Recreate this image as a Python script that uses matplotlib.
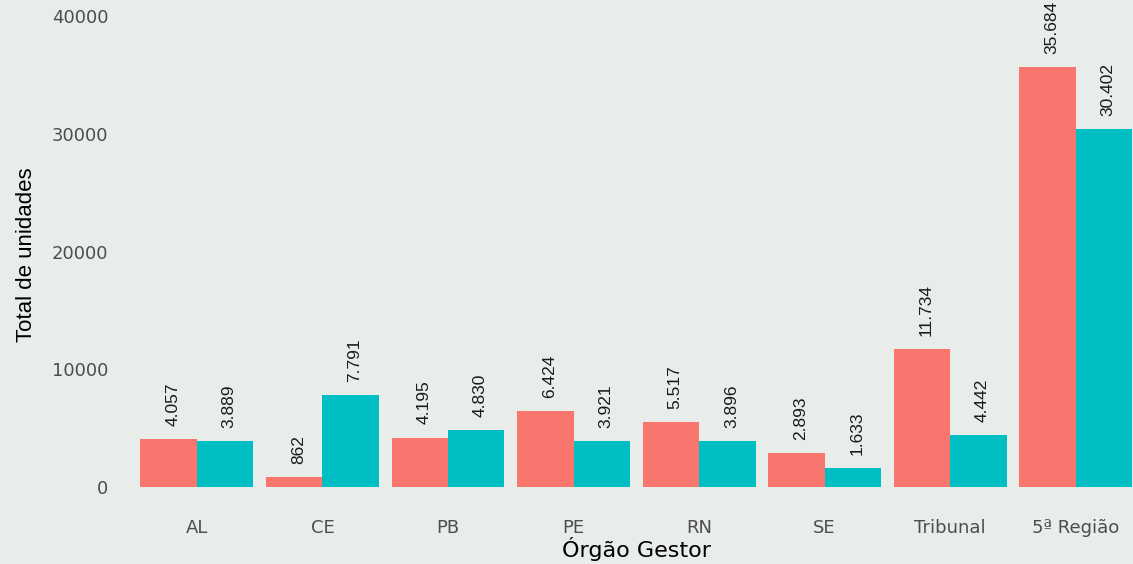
import matplotlib
matplotlib.use("Agg")
import matplotlib.pyplot as plt
import numpy as np

# Units per management body, two series side by side
categorias = ["AL", "CE", "PB", "PE", "RN", "SE", "Tribunal", "5ª Região"]
serie_1 = [4057, 862, 4195, 6424, 5517, 2893, 11734, 35684]
serie_2 = [3889, 7791, 4830, 3921, 3896, 1633, 4442, 30402]
y_ticks = [0, 10000, 20000, 30000, 40000]

cor_1 = "#F8766D"
cor_2 = "#00BFC4"
fundo = "#e9ede9"

plt.rcParams["font.family"] = ["Liberation Sans", "DejaVu Sans"]
largo = ["DejaVu Sans"]

W, H = 1133, 564
fig = plt.figure(figsize=(W / 100, H / 100), dpi=100)
fig.patch.set_facecolor(fundo)

left_px, right_px = 121.6, 1151.0
top_px, bottom_px = 0.0, 509.0
ax = fig.add_axes([left_px / W, (H - bottom_px) / H,
                   (right_px - left_px) / W, (bottom_px - top_px) / H])
ax.set_facecolor("none")

x = np.arange(1, len(categorias) + 1)
w = 0.45
ax.bar(x - w / 2, serie_1, width=w, color=cor_1, linewidth=0)
ax.bar(x + w / 2, serie_2, width=w, color=cor_2, linewidth=0)


def fmt(v):
    return f"{v:,}".replace(",", ".")


for xs, vals in ((x - w / 2, serie_1), (x + w / 2, serie_2)):
    for xi, v in zip(xs, vals):
        ax.annotate(fmt(v), (xi, v), xytext=(3, 9.5), textcoords="offset points",
                    rotation=90, ha="center", va="bottom", fontsize=12.5,
                    color="#1a1a1a")

ax.set_xlim(0.4, 8.6)
ax.set_ylim(-1868, 41360)
ax.set_xticks(x)
ax.set_xticklabels(categorias, family=largo, fontsize=13)
ax.set_yticks(y_ticks)
ax.set_yticklabels([str(t) for t in y_ticks], family=largo, fontsize=13)
ax.tick_params(axis="both", length=0, colors="#4d4d4d")
ax.tick_params(axis="x", pad=7.5)
ax.tick_params(axis="y", pad=9.5)
for s in ax.spines.values():
    s.set_visible(False)

ax.set_xlabel("Órgão Gestor", family=largo, fontsize=16, color="black",
              labelpad=-0.5)
ax.set_ylabel("Total de unidades", fontsize=16, color="black", labelpad=11)

fig.savefig("out.png", dpi=100, facecolor=fundo)
